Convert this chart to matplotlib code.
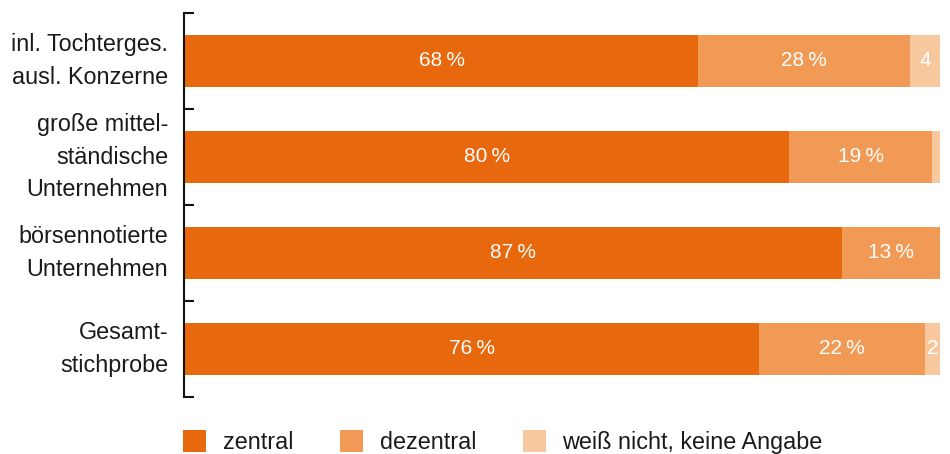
import matplotlib
matplotlib.use("Agg")
import matplotlib.pyplot as plt
from matplotlib.patches import Patch
from matplotlib.transforms import blended_transform_factory

plt.rcParams['font.family'] = ['Liberation Sans', 'DejaVu Sans']

categories = ["inl. Tochterges.\nausl. Konzerne",
              "große mittel-\nständische\nUnternehmen",
              "börsennotierte\nUnternehmen",
              "Gesamt-\nstichprobe"]
zentral = [68, 80, 87, 76]
dezentral = [28, 19, 13, 22]
keine = [4, 1, 0, 2]
series_names = ["zentral", "dezentral", "weiß nicht, keine Angabe"]
colors = ["#E8680E", "#F09A56", "#F7C79E"]

fig = plt.figure(figsize=(9.5, 4.54), dpi=100)
ax = fig.add_axes([185/950, 1-397/454, (940-185)/950, 384/454])

ypos = list(range(len(categories)))
left = [0]*len(categories)
for vals, col, idx in zip([zentral, dezentral, keine], colors, range(3)):
    ax.barh(ypos, vals, left=left, height=0.55, color=col, edgecolor='none')
    for y, v, l in zip(ypos, vals, left):
        if idx < 2:
            txt = f"{v}\u2009%"
        else:
            txt = f"{v}" if v >= 2 else ""
        if txt:
            ax.text(l + v/2, y, txt, ha='center', va='center', color='white', fontsize=15)
    left = [a+b for a, b in zip(left, vals)]

ax.set_xlim(0, 100)
ax.set_ylim(len(categories)-0.5, -0.5)
ax.set_yticks([])
ax.set_yticks([i - 0.5 for i in range(len(categories)+1)], minor=True)
ax.tick_params(axis='y', which='minor', length=7, width=1.5, direction='in', color='#111111')
trans = blended_transform_factory(ax.transAxes, ax.transData)
for y, lab in zip(ypos, categories):
    ax.text(-17/755, y, lab, transform=trans, ha='right', va='center', multialignment='right',
            fontsize=16.8, color='#1a1a1a', linespacing=1.55)
ax.set_xticks([])
for s in ['top', 'right', 'bottom']:
    ax.spines[s].set_visible(False)
ax.spines['left'].set_linewidth(1.5)
ax.spines['left'].set_color('#111111')
ax.spines['left'].set_position(('outward', 1))

handles = [Patch(facecolor=c, edgecolor='none') for c in colors]
fig.legend(handles, series_names, loc='lower left', bbox_to_anchor=(183/950, 0.0),
           ncol=3, frameon=False, fontsize=16.8, handlelength=1.0, handleheight=1.1,
           handletextpad=0.7, columnspacing=2.0, labelcolor='#1a1a1a',
           borderpad=0, borderaxespad=0)

fig.savefig("out.png", dpi=100)
